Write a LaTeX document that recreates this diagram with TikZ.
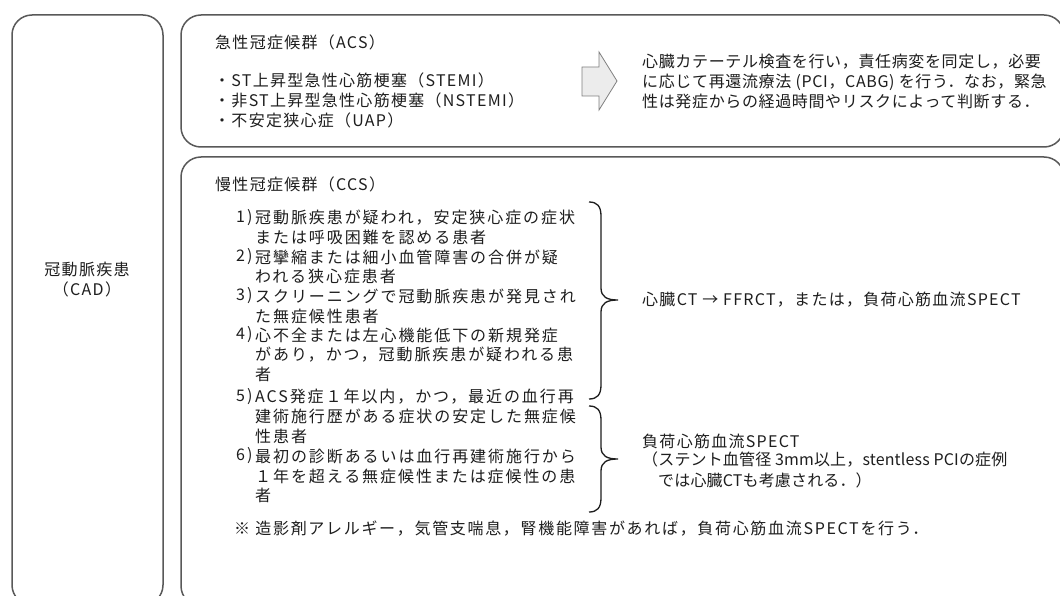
\documentclass[tikz,border=0pt]{standalone}
\usepackage{fontspec}
\newfontfamily\jpA[LetterSpace=8]{Noto Sans CJK JP}
\newfontfamily\jpB[LetterSpace=4]{Noto Sans CJK JP}
\newfontfamily\jpC[LetterSpace=12]{Noto Sans CJK JP}
\newfontfamily\jpD[LetterSpace=10.5]{Noto Sans CJK JP}
\newfontfamily\jpE[LetterSpace=1]{Noto Sans CJK JP}
\definecolor{ink}{HTML}{1E1E1E}
\definecolor{boxc}{HTML}{595959}
\definecolor{arrfill}{HTML}{ECECEC}
\definecolor{arrdraw}{HTML}{808080}
\newcommand{\mybrace}[4]{% name, top, mid, bottom
  \coordinate (#1-t) at (589,#2);
  \coordinate (#1-m) at (618,#3);
  \coordinate (#1-b) at (589,#4);
  \draw[braceline] (#1-t) .. controls (597,#2) and (601,#2+4) .. (601,#2+14) -- (601,#3-12)
    .. controls (601,#3-3) and (607,#3) .. (#1-m)
    .. controls (607,#3) and (601,#3+3) .. (601,#3+12) -- (601,#4-14)
    .. controls (601,#4-4) and (597,#4) .. (#1-b);}
\begin{document}
\begin{tikzpicture}[x=1pt,y=-1pt,
  box/.style={draw=boxc, line width=1.5pt, rounded corners=20pt, inner sep=0pt},
  txt/.style={anchor=west, inner sep=0pt, text=ink, font=\jpA\fontsize{16}{19}\selectfont},
  txtb/.style={txt, font=\jpB\fontsize{16}{19}\selectfont},
  txtc/.style={txt, font=\jpC\fontsize{16}{19}\selectfont},
  txtd/.style={txt, font=\jpD\fontsize{16}{19}\selectfont},
  txte/.style={txt, font=\jpE\fontsize{16}{19}\selectfont},
  ctxt/.style={txt, anchor=center},
  braceline/.style={draw=ink, line width=1.3pt},
  bigarrow/.style={fill=arrfill, draw=arrdraw, line width=0.8pt, line join=miter}]
\useasboundingbox (0,0) rectangle (1060,596);
\clip (0,0) rectangle (1060,596);
\fill[white] (0,0) rectangle (1060,596);
% boxes
\node[box, minimum width=151pt, minimum height=590pt] (cad) at (87.5,310) {};
\node[box, minimum width=883pt, minimum height=132pt] (acs) at (622.5,81) {};
\node[box, minimum width=883pt, minimum height=449pt] (ccs) at (622.5,381.5) {};
% CAD label
\node[ctxt] (cad1) at (87,269) {冠動脈疾患};
\node[ctxt] (cad2) at (87,289) {（CAD）};
% ACS
\node[txt] (acst) at (215,42) {急性冠症候群（ACS）};
\node[txt] (acs1) at (214,80) {・ST上昇型急性心筋梗塞（STEMI）};
\node[txt] (acs2) at (214,100) {・非ST上昇型急性心筋梗塞（NSTEMI）};
\node[txt] (acs3) at (214,120) {・不安定狭心症（UAP）};
\draw[bigarrow] (582,67) -- (599,67) -- (599,52) -- (617,81) -- (599,110) -- (599,96) -- (582,96) -- cycle;
\node[txtb] (acsr1) at (642,62) {心臓カテーテル検査を行い，責任病変を同定し，必要};
\node[txtb] (acsr2) at (642,82) {に応じて再還流療法 (PCI，CABG) を行う．なお，緊急};
\node[txtb] (acsr3) at (642,101) {性は発症からの経過時間やリスクによって判断する．};
% CCS
\node[txt] (ccst) at (215,184) {慢性冠症候群（CCS）};
\node[txtc] (n1) at (236,218) {1)};
\node[txtc] (i1a) at (255,218) {冠動脈疾患が疑われ，安定狭心症の症状};
\node[txtc] (i1b) at (255,237) {または呼吸困難を認める患者};
\node[txtc] (n2) at (236,257) {2)};
\node[txtc] (i2a) at (255,257) {冠攣縮または細小血管障害の合併が疑};
\node[txtc] (i2b) at (255,276) {われる狭心症患者};
\node[txtc] (n3) at (236,296) {3)};
\node[txtc] (i3a) at (255,296) {スクリーニングで冠動脈疾患が発見され};
\node[txtc] (i3b) at (255,316) {た無症候性患者};
\node[txtc] (n4) at (236,335) {4)};
\node[txtc] (i4a) at (255,335) {心不全または左心機能低下の新規発症};
\node[txtc] (i4b) at (255,355) {があり，かつ，冠動脈疾患が疑われる患};
\node[txtc] (i4c) at (255,374) {者};
\node[txtc] (n5) at (236,397) {5)};
\node[txtc] (i5a) at (255,397) {ACS発症１年以内，かつ，最近の血行再};
\node[txtc] (i5b) at (255,416) {建術施行歴がある症状の安定した無症候};
\node[txtc] (i5c) at (255,436) {性患者};
\node[txtc] (n6) at (236,456) {6)};
\node[txtc] (i6a) at (255,456) {最初の診断あるいは血行再建術施行から};
\node[txtc] (i6b) at (255,476) {１年を超える無症候性または症候性の患};
\node[txtc] (i6c) at (255,495) {者};
\node[txtd] (note) at (234,529) {※ 造影剤アレルギー，気管支喘息，腎機能障害があれば，負荷心筋血流SPECTを行う．};
% braces
\mybrace{br1}{202}{300}{399}
\mybrace{br2}{406}{459}{512}
\node[txt] (r1) at (642,300) {心臓CT → FFRCT，または，負荷心筋血流SPECT};
\node[txt] (r2a) at (642,441) {負荷心筋血流SPECT};
\node[txte] (r2b) at (642,460) {（ステント血管径 3mm以上，stentless PCIの症例};
\node[txte] (r2c) at (658,480) {では心臓CTも考慮される．）};
\end{tikzpicture}
\end{document}
